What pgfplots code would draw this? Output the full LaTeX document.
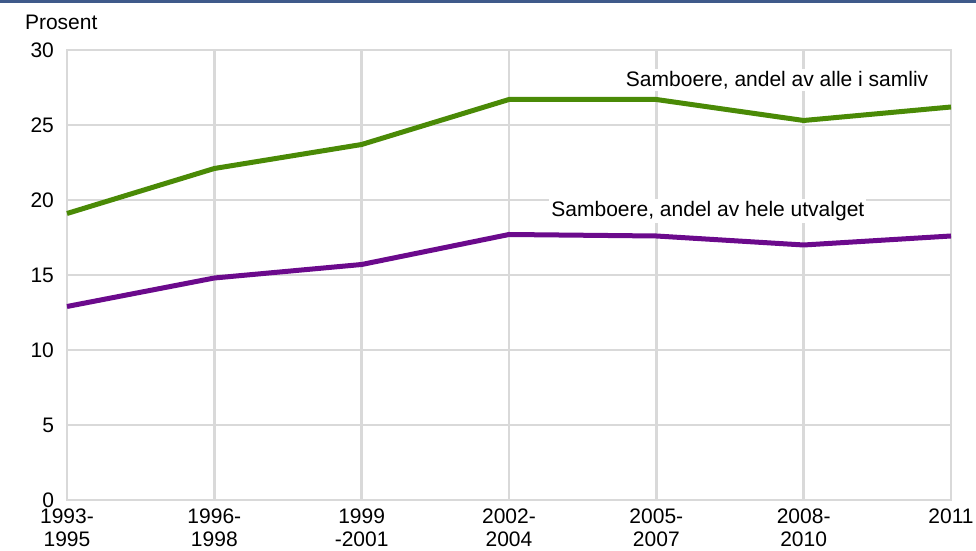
\documentclass[border=0pt]{standalone}
\usepackage{fontspec}
\setmainfont{Liberation Sans}
\usepackage{pgfplots}
\pgfplotsset{compat=1.18}
\definecolor{gridgray}{HTML}{D9D9D9}
\definecolor{sambgreen}{HTML}{4A8A06}
\definecolor{sambpurple}{HTML}{6B0A8C}
\definecolor{topblue}{HTML}{3F5A8A}
\begin{document}
\begin{tikzpicture}[font=\fontsize{10.5}{11.5}\selectfont]
\begin{axis}[
  scale only axis, width=442pt, height=225pt,
  xmin=0, xmax=6, ymin=0, ymax=30,
  xtick={0,...,6},
  xticklabels={{1993-\\1995},{1996-\\1998},{1999\\-2001},{2002-\\2004},{2005-\\2007},{2008-\\2010},{2011}},
  ytick={0,5,...,30},
  grid=major,
  major grid style={gridgray, line width=1.2pt},
  axis line style={gridgray, line width=1.2pt},
  tick style={draw=none},
  xticklabel style={align=center, font=\fontsize{10.5}{11.2}\selectfont, yshift=-1pt},
  yticklabel style={font=\fontsize{10.5}{11.5}\selectfont, xshift=-3pt},
  /pgf/number format/assume math mode=true,
  clip=false,
]
\addplot[sambgreen, line width=2.5pt] coordinates {
  (0,19.1) (1,22.1) (2,23.7) (3,26.7) (4,26.7) (5,25.3) (6,26.2)
};
\addplot[sambpurple, line width=2.5pt] coordinates {
  (0,12.9) (1,14.8) (2,15.7) (3,17.7) (4,17.6) (5,17.0) (6,17.6)
};
\node[fill=white, inner sep=1pt] at (axis cs:4.82,28.0) {Samboere, andel av alle i samliv};
\node[fill=white, inner sep=1pt] at (axis cs:4.35,19.27) {Samboere, andel av hele utvalget};
\end{axis}
\node[anchor=west] at (-24.5pt,239pt) {Prosent};
\fill[topblue] (-33.5pt,248.5pt) rectangle (454.5pt,250pt);
\pgfresetboundingbox
\useasboundingbox (-33.5pt,-25.5pt) rectangle (454.5pt,250pt);
\end{tikzpicture}
\end{document}
